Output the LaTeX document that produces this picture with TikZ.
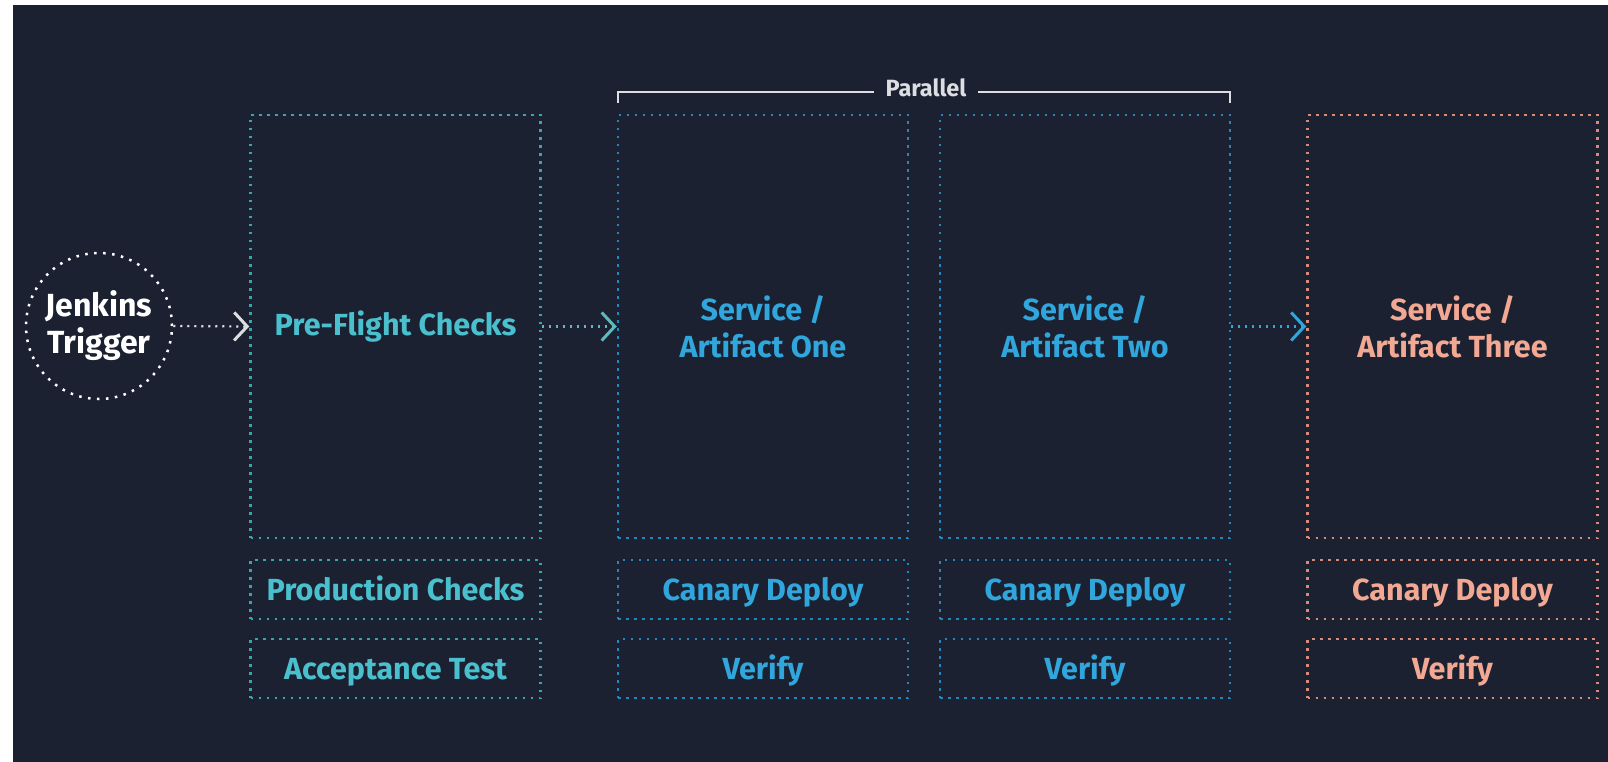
\documentclass[tikz,border=0pt]{standalone}
\usepackage{fontspec}
\setmainfont{Fira Sans}
\usetikzlibrary{arrows.meta}
\definecolor{bg}{RGB}{27,33,48}
\definecolor{tealdot}{RGB}{52,168,172}
\definecolor{tealtxt}{RGB}{74,192,206}
\definecolor{bluedot}{RGB}{32,136,186}
\definecolor{bluetxt}{RGB}{48,166,220}
\definecolor{salmdot}{RGB}{214,140,122}
\definecolor{salmtxt}{RGB}{242,168,146}
\definecolor{parcol}{RGB}{220,222,226}
\tikzset{
  dotline/.style={line width=2.5pt, dash pattern=on 2.5pt off 5.5pt},
  stagebox/.style={draw, dotline, rectangle, inner sep=0pt, align=center,
    font=\fontsize{30.5}{37}\selectfont\bfseries},
  tealbox/.style={stagebox, draw=tealdot, text=tealtxt},
  bluebox/.style={stagebox, draw=bluedot, text=bluetxt},
  salmbox/.style={stagebox, draw=salmdot, text=salmtxt},
  bigbox/.style={minimum width=290pt, minimum height=423pt},
  smallbox/.style={minimum width=290pt, minimum height=59pt},
  flow/.style={line width=2.2pt, dash pattern=on 2.2pt off 4.8pt,
    -{Straight Barb[length=13pt,width=28pt,line width=3pt]}},
}
\newcommand{\lbl}[1]{\vphantom{Ag}\rule{0pt}{29pt}#1}
\begin{document}
\begin{tikzpicture}[x=1pt,y=-1pt]
\useasboundingbox (0,0) rectangle (1608,762);
\fill[white] (0,0) rectangle (1608,762);
\fill[bg] (13,5) rectangle (1608,762);

% trigger
\node[circle, draw=white, line width=2.5pt, dash pattern=on 2.5pt off 6.5pt,
  minimum size=146pt, inner sep=0pt, align=center, text=white,
  font=\fontsize{32}{37}\selectfont\bfseries] (jt) at (99,326) {Jenkins\\Trigger};

% column 1
\node[tealbox, bigbox] (pre) at (395.5,326.5) {Pre-Flight Checks};
\node[tealbox, smallbox] (prod) at (395.5,589.5) {\lbl{Production Checks}};
\node[tealbox, smallbox] (acc) at (395.5,668.5) {\lbl{Acceptance Test}};

% column 2
\node[bluebox, bigbox] (s1) at (763,326.5) {Service /\\Artifact One};
\node[bluebox, smallbox] (c1) at (763,589.5) {\lbl{Canary Deploy}};
\node[bluebox, smallbox] (v1) at (763,668.5) {\lbl{Verify}};

% column 3
\node[bluebox, bigbox] (s2) at (1085,326.5) {Service /\\Artifact Two};
\node[bluebox, smallbox] (c2) at (1085,589.5) {\lbl{Canary Deploy}};
\node[bluebox, smallbox] (v2) at (1085,668.5) {\lbl{Verify}};

% column 4
\node[salmbox, bigbox] (s3) at (1452.5,326.5) {Service /\\Artifact Three};
\node[salmbox, smallbox] (c3) at (1452.5,589.5) {\lbl{Canary Deploy}};
\node[salmbox, smallbox] (v3) at (1452.5,668.5) {\lbl{Verify}};

% arrows
\draw[flow, draw=white!85!bg] (jt.east) -- (pre.west);
\draw[flow, draw=tealdot!80!white] (pre.east) -- (s1.west);
\draw[flow, draw=bluetxt] (s2.east) -- (s3.west);

% parallel bracket
\node[text=parcol, inner sep=11pt, font=\fontsize{23.5}{26}\selectfont\bfseries] (par) at (926,88) {Parallel};
\coordinate (bl) at (618,103);
\coordinate (br) at (1230,103);
\draw[parcol, line width=2.4pt] (bl) -- (bl |- 0,92) -- (par.west |- 0,92);
\draw[parcol, line width=2.4pt] (br) -- (br |- 0,92) -- (par.east |- 0,92);
\end{tikzpicture}
\end{document}
